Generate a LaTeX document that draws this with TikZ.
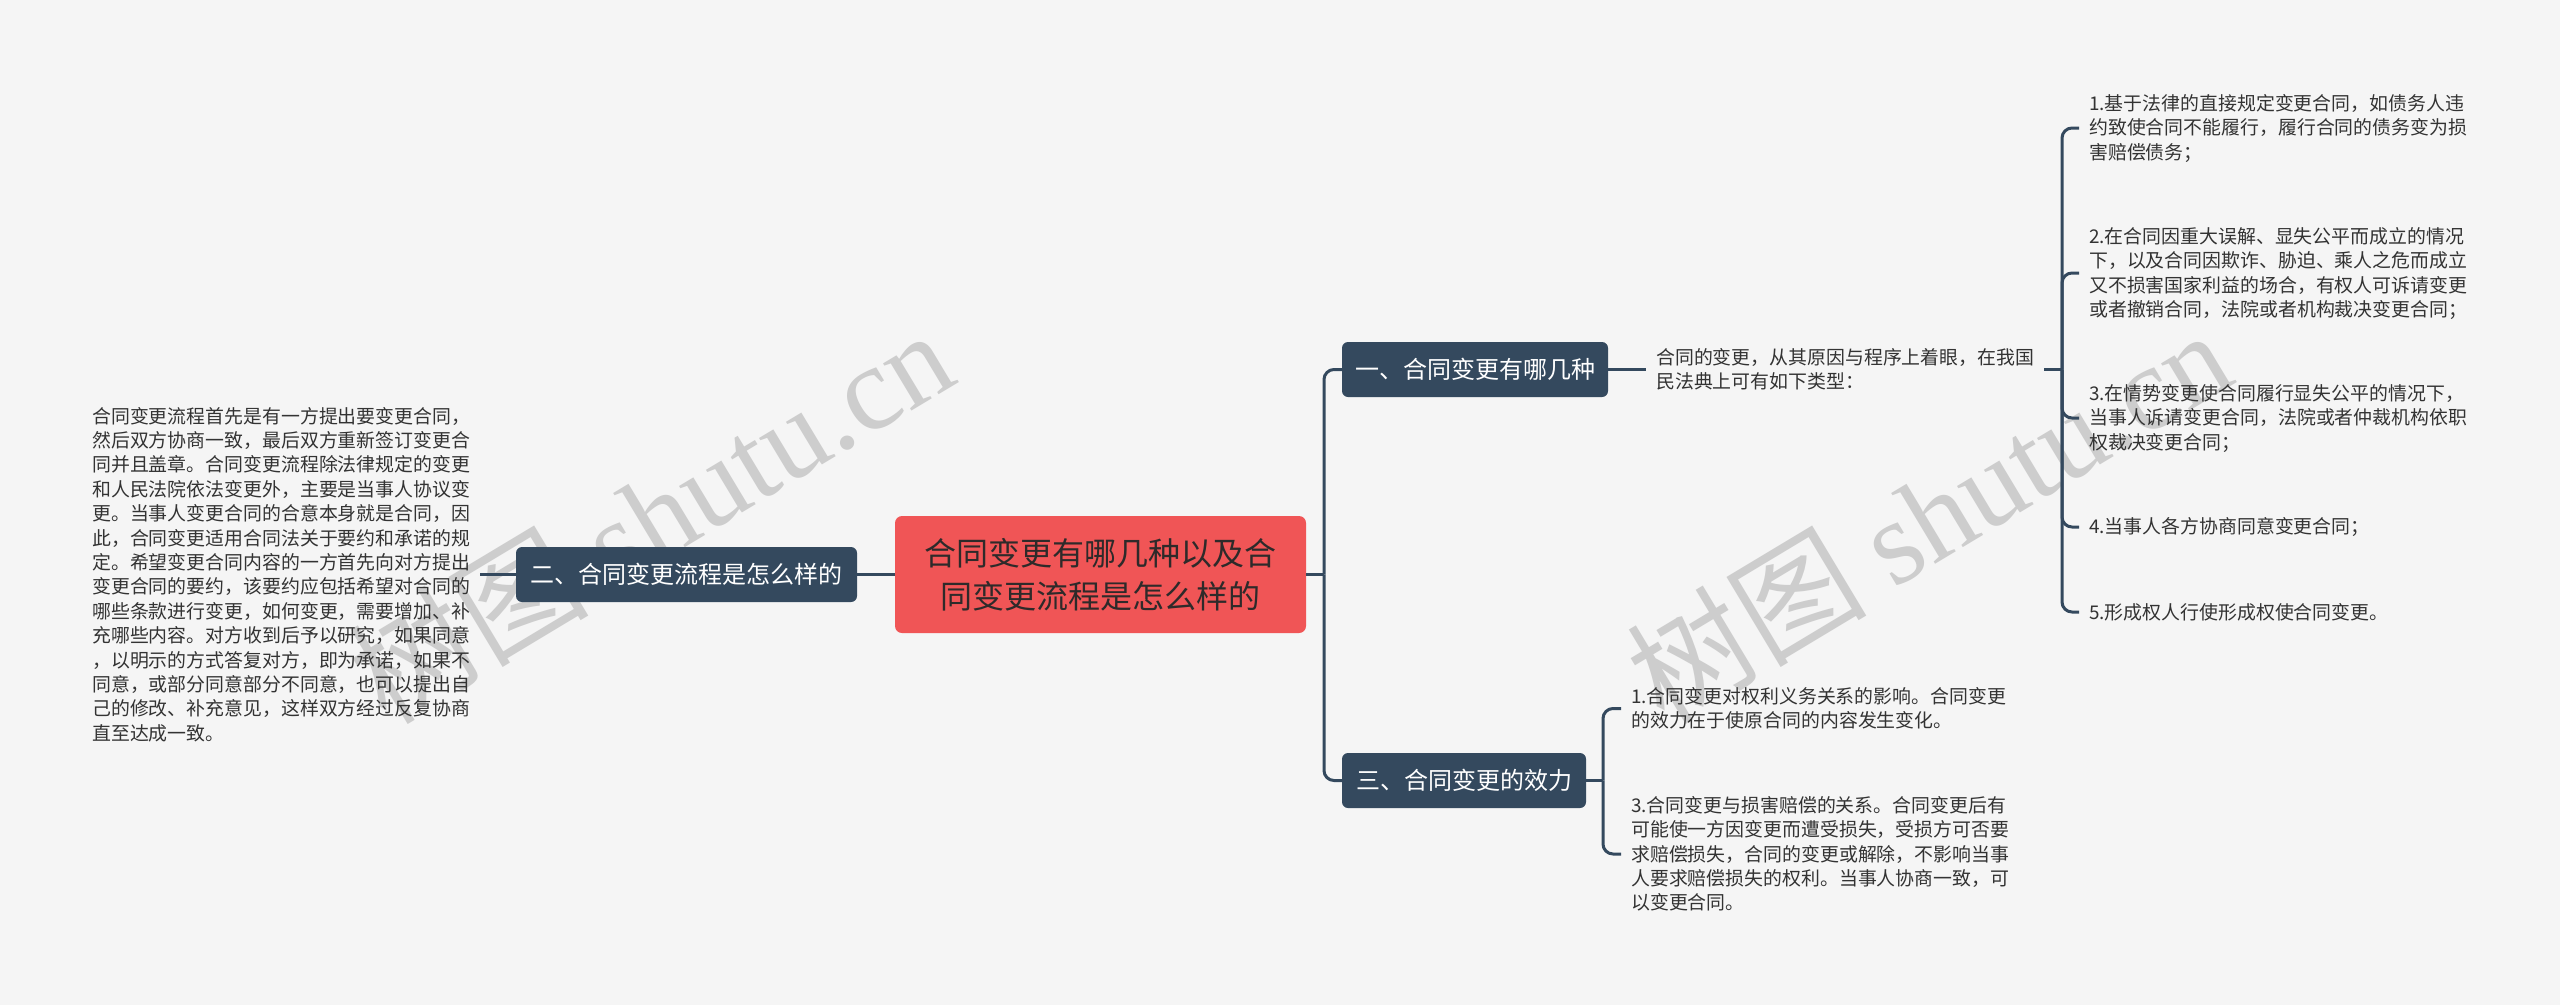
\documentclass[tikz,border=0pt]{standalone}
\usepackage{fontspec}
\setmainfont{Noto Sans CJK SC}
\newfontfamily\wmcjk{Noto Sans CJK SC}
\newfontfamily\wmser{Liberation Serif}
\definecolor{bgc}{HTML}{F5F5F5}
\definecolor{slate}{HTML}{34495E}
\definecolor{redc}{HTML}{F05556}
\definecolor{txtc}{HTML}{333333}
\definecolor{ctxt}{HTML}{2E2A2A}
\definecolor{wmc}{HTML}{CDCDCD}
\newcommand\ms{\rule[-0.12em]{0pt}{1em}}
\begin{document}
\begin{tikzpicture}[x=1pt,y=-1pt,
  edge/.style={draw=slate, line width=3pt, rounded corners=10pt},
  box/.style={rounded corners=6pt, fill=slate, text=white, inner sep=0pt,
    minimum height=55pt, font=\fontsize{24}{30}\selectfont},
  cbox/.style={rounded corners=7pt, fill=redc, text=ctxt, inner sep=0pt,
    align=center, font=\fontsize{32}{43}\selectfont},
  txt/.style={anchor=west, align=left, inner xsep=10pt, inner ysep=0pt,
    text=txtc, font=\fontsize{18.9}{24.4}\selectfont},
  wm/.style={text=wmc, inner sep=0pt, font=\fontsize{120}{130}\selectfont}]
\fill[bgc] (0,0) rectangle (2560,1005);
\useasboundingbox (0,0) rectangle (2560,1005);

% watermarks
\node[wm, rotate=31] (wm1) at (650,515) {\wmcjk 树图 \wmser shutu.cn};
\node[wm, rotate=31] (wm2) at (1928,515) {\wmcjk 树图 \wmser shutu.cn};

% central node
\node[cbox, minimum width=411pt, minimum height=117pt] (c) at (1100.5,574.5)
  {\ms 合同变更有哪几种以及合\\\ms 同变更流程是怎么样的};

% branch nodes
\node[box, minimum width=341pt] (n2) at (686.5,574.5) {\ms 二、合同变更流程是怎么样的};
\node[box, minimum width=266pt] (n1) at (1475,369.5) {\ms 一、合同变更有哪几种};
\node[box, minimum width=244pt] (n3) at (1464,780.5) {\ms 三、合同变更的效力};

% left paragraph
\node[txt] (p) at (82,574.5) {\ms 合同变更流程首先是有一方提出要变更合同，\\
\ms 然后双方协商一致，最后双方重新签订变更合\\
\ms 同并且盖章。合同变更流程除法律规定的变更\\
\ms 和人民法院依法变更外，主要是当事人协议变\\
\ms 更。当事人变更合同的合意本身就是合同，因\\
\ms 此，合同变更适用合同法关于要约和承诺的规\\
\ms 定。希望变更合同内容的一方首先向对方提出\\
\ms 变更合同的要约，该要约应包括希望对合同的\\
\ms 哪些条款进行变更，如何变更，需要增加、补\\
\ms 充哪些内容。对方收到后予以研究，如果同意\\
\ms ，以明示的方式答复对方，即为承诺，如果不\\
\ms 同意，或部分同意部分不同意，也可以提出自\\
\ms 己的修改、补充意见，这样双方经过反复协商\\
\ms 直至达成一致。};

% top right
\node[txt] (t1) at (1646,369.5) {\ms 合同的变更，从其原因与程序上着眼，在我国\\
\ms 民法典上可有如下类型：};

\node[txt] (i1) at (2079,128) {\ms 1.基于法律的直接规定变更合同，如债务人违\\
\ms 约致使合同不能履行，履行合同的债务变为损\\
\ms 害赔偿债务；};
\node[txt] (i2) at (2079,273) {\ms 2.在合同因重大误解、显失公平而成立的情况\\
\ms 下，以及合同因欺诈、胁迫、乘人之危而成立\\
\ms 又不损害国家利益的场合，有权人可诉请变更\\
\ms 或者撤销合同，法院或者机构裁决变更合同；};
\node[txt] (i3) at (2079,418) {\ms 3.在情势变更使合同履行显失公平的情况下，\\
\ms 当事人诉请变更合同，法院或者仲裁机构依职\\
\ms 权裁决变更合同；};
\node[txt] (i4) at (2079,527) {\ms 4.当事人各方协商同意变更合同；};
\node[txt] (i5) at (2079,612) {\ms 5.形成权人行使形成权使合同变更。};

% bottom right
\node[txt] (k1) at (1621,708.5) {\ms 1.合同变更对权利义务关系的影响。合同变更\\
\ms 的效力在于使原合同的内容发生变化。};
\node[txt] (k3) at (1621,854) {\ms 3.合同变更与损害赔偿的关系。合同变更后有\\
\ms 可能使一方因变更而遭受损失，受损方可否要\\
\ms 求赔偿损失，合同的变更或解除，不影响当事\\
\ms 人要求赔偿损失的权利。当事人协商一致，可\\
\ms 以变更合同。};

% junctions
\coordinate (j0) at (1324,574.5);
\coordinate (j1) at (2062,369.5);
\coordinate (j2) at (1603,780.5);

% connectors
\draw[edge] (c.west) -- (n2.east);
\draw[edge] (n2.west) -- (p.east |- n2.west);
\draw[edge] (c.east) -- (j0);
\draw[edge] (j0) |- (n1.west);
\draw[edge] (j0) |- (n3.west);
\draw[edge] (n1.east) -- (t1.west |- n1.east);
\draw[edge] (t1.east) -- (j1);
\draw[edge] (j1) |- (i1.west);
\draw[edge] (j1) |- (i2.west);
\draw[edge] (j1) |- (i3.west);
\draw[edge] (j1) |- (i4.west);
\draw[edge] (j1) |- (i5.west);
\draw[edge] (n3.east) -- (j2);
\draw[edge] (j2) |- (k1.west);
\draw[edge] (j2) |- (k3.west);
\end{tikzpicture}
\end{document}
